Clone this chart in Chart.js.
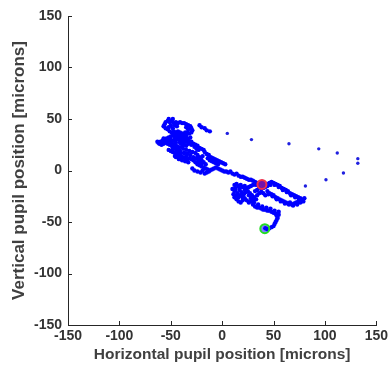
<!DOCTYPE html>
<html>
<head>
<meta charset="utf-8">
<script src="https://cdn.jsdelivr.net/npm/chart.js@4.4.1/dist/chart.umd.min.js"></script>
<style>
  html, body { margin: 0; padding: 0; background: #fff; }
  #wrap { width: 391px; height: 372px; }
</style>
</head>
<body>
<div id="wrap"><canvas id="pupilChart"></canvas></div>
<script>
// pupil trace [x, y] in microns
const tracePts = [
    // top loop of the left cluster
    [-57, 43], [-56, 45], [-55, 47], [-53, 48], [-51, 47], [-49, 48], [-47, 46], [-45, 47], [-43, 46], [-41, 47],
    [-39, 46], [-37, 46], [-35, 45], [-33, 44], [-31, 43], [-30, 41], [-29, 39], [-30, 37], [-32, 36], [-34, 37],
    [-55, 41], [-52, 42], [-53, 40], [-51, 38], [-49, 37], [-47, 38], [-45, 37], [-43, 38], [-41, 37], [-39, 36],
    [-37, 35], [-36, 37], [-52, 50], [-48, 50], [-46, 44], [-44, 43], [-50, 44], [-48, 41], [-33, 40], [-35, 42],
    // left arm
    [-63, 28], [-62, 27], [-60, 28], [-58, 29], [-56, 30], [-54, 31], [-52, 32], [-50, 33], [-48, 34], [-46, 33],
    [-44, 34], [-42, 33], [-40, 32], [-38, 33], [-36, 32], [-34, 31], [-61, 26], [-59, 25], [-57, 26], [-55, 27],
    [-53, 26], [-51, 25], [-49, 24], [-47, 25], [-45, 24], [-43, 23], [-50, 30], [-47, 29], [-44, 30], [-41, 29],
    [-38, 30], [-48, 36], [-45, 35], [-42, 36], [-40, 35],
    [-57, 31], [-53, 29], [-49, 27], [-45, 27], [-41, 27], [-37, 28], [-33, 30], [-31, 32], [-35, 34], [-39, 31],
    [-43, 31], [-46, 31], [-50, 28], [-54, 28], [-58, 27],
    // middle of the left cluster
    [-36, 29], [-34, 28], [-32, 27], [-30, 28], [-28, 26], [-26, 25], [-24, 24], [-22, 22], [-20, 21], [-18, 20],
    [-30, 25], [-27, 23], [-25, 21], [-23, 20], [-33, 26], [-38, 27], [-40, 26], [-37, 25], [-35, 24], [-39, 23],
    [-52, 20], [-50, 19], [-48, 18], [-46, 17], [-44, 16], [-42, 15], [-40, 14], [-38, 13], [-36, 12], [-34, 11],
    [-32, 12], [-30, 11], [-28, 10], [-47, 21], [-44, 20], [-41, 19], [-45, 13], [-42, 11], [-39, 10], [-36, 9],
    [-33, 8],
    [-48, 22], [-45, 21], [-42, 22], [-38, 21], [-35, 20], [-32, 19], [-29, 18], [-26, 17], [-24, 15], [-31, 15],
    [-34, 16], [-37, 17], [-40, 17], [-43, 18], [-46, 14], [-43, 13], [-40, 12], [-35, 14], [-28, 13], [-25, 12],
    [-22, 13], [-20, 10], [-18, 8], [-16, 6], [-20, 7], [-23, 8],
    // lower band of the left cluster
    [-26, 8], [-24, 6], [-22, 5], [-20, 4], [-18, 3], [-16, 2], [-14, 1], [-12, 0], [-15, -2], [-17, -3],
    [-13, -1], [-10, 1], [-8, 2], [-6, 3], [-4, 2], [-2, 1], [0, 0], [2, -1], [4, -1], [-29, 2],
    [-27, 0], [-24, -1], [-21, -2], [-19, 0],
    [-17, 18], [-15, 16], [-13, 15], [-11, 13], [-9, 12], [-7, 11], [-5, 10], [-3, 9], [-1, 8], [1, 7],
    [3, 6], [-14, 12], [-12, 10], [-10, 9], [-8, 8], [-6, 7], [-4, 6], [-19, 14], [-21, 12], [-23, 10],
    [-22, 44], [-20, 42], [-17, 41], [-15, 39], [-12, 38],
    // trail down to the middle cluster
    [6, -2], [8, -1], [10, -3], [12, -4], [14, -3], [16, -5], [18, -6], [20, -6], [22, -7], [24, -8],
    [26, -9], [28, -9], [30, -10], [32, -11], [34, -12],
    // middle cluster, left part
    [12, -14], [14, -13], [16, -15], [18, -14], [20, -16], [22, -15], [24, -17], [26, -16], [28, -15], [30, -14],
    [13, -17], [12, -20], [11, -23], [12, -26], [14, -28], [16, -30], [18, -31], [20, -29], [22, -27], [24, -29],
    [26, -31], [28, -30], [15, -22], [17, -19], [19, -21], [21, -23], [23, -21], [25, -20], [27, -22], [29, -24],
    [31, -26], [33, -28], [10, -18],
    [14, -24], [16, -26], [18, -24], [20, -26], [13, -19], [17, -17], [22, -19], [26, -24], [28, -27], [30, -29],
    // around the red marker
    [33, -14], [35, -13], [37, -12], [39, -11], [41, -12], [43, -13], [36, -16], [38, -18], [40, -17], [42, -16],
    [44, -15], [34, -19], [32, -20], [39, -14], [34, -24], [36, -22], [38, -21], [40, -22], [42, -24],
    // loop to the right
    [46, -12], [48, -11], [50, -12], [52, -13], [54, -14], [56, -15], [58, -17], [60, -18], [62, -19], [64, -20],
    [66, -22], [68, -23], [70, -24], [72, -25], [74, -26], [76, -27], [78, -28], [77, -30],
    [47, -14], [51, -14], [55, -16], [59, -19], [63, -21], [67, -24], [71, -26], [75, -28], [79, -30], [80, -27],
    [44, -20], [46, -22], [48, -23], [50, -24], [52, -26], [54, -27], [56, -28], [58, -29], [60, -30], [62, -31],
    [64, -32], [66, -31], [68, -33], [70, -32], [72, -31], [74, -30],
    [45, -23], [49, -25], [53, -28], [57, -30], [61, -32], [65, -33], [69, -34], [73, -33], [76, -31],
    // tail down to the green marker
    [30, -33], [32, -35], [34, -36], [36, -36], [38, -37], [40, -38], [42, -38], [44, -39], [46, -39], [48, -40],
    [50, -41], [52, -42], [53, -44], [54, -46], [53, -48], [52, -50], [51, -52], [50, -54], [48, -55], [46, -56],
    [44, -57], [42, -56],
    [31, -31], [35, -33], [39, -35], [43, -36], [47, -37], [51, -39], [55, -43], [55, -40]
];

// sparse stray samples to the right
const strayPts = [
    [5, 36], [28.5, 30], [65, 26], [94, 21], [112, 17], [132, 11.5], [132, 7], [118, -2.4], [101, -9], [81, -15]
];

const startPt = [[38.7, -13.5]];
const endPt = [[41.5, -56.5]];

const axisTicks = [-150, -100, -50, 0, 50, 100, 150];

const toXY = pts => pts.map(p => ({ x: p[0], y: p[1] }));

// MATLAB style ticks pointing into the plot
const innerTicks = {
    id: "innerTicks",
    afterDraw(chart) {
        const ctx = chart.ctx;
        const xs = chart.scales.x, ys = chart.scales.y;
        ctx.save();
        ctx.strokeStyle = "#262626";
        ctx.lineWidth = 1;
        ctx.beginPath();
        axisTicks.forEach(v => {
            const px = Math.round(xs.getPixelForValue(v)) + 0.5;
            ctx.moveTo(px, ys.bottom);
            ctx.lineTo(px, ys.bottom - 4);
            const py = Math.round(ys.getPixelForValue(v)) + 0.5;
            ctx.moveTo(xs.left, py);
            ctx.lineTo(xs.left + 4, py);
        });
        ctx.stroke();
        ctx.restore();
    }
};

const tickFont = { family: "'Liberation Sans', Arial, sans-serif", size: 14, weight: "bold" };

new Chart(document.getElementById("pupilChart"), {
    type: "scatter",
    data: {
        datasets: [
            {
                data: toXY(startPt),
                backgroundColor: "rgba(255,40,70,0.45)",
                borderColor: "#f0304a",
                borderWidth: 2,
                pointRadius: 4.5,
                order: 0
            },
            {
                data: toXY(endPt),
                backgroundColor: "rgba(0,0,255,0.5)",
                borderColor: "#22dd22",
                borderWidth: 2,
                pointRadius: 4.5,
                order: 0
            },
            {
                data: toXY(tracePts),
                backgroundColor: "#0000ff",
                borderWidth: 0,
                pointRadius: 2.2,
                order: 1
            },
            {
                data: toXY(strayPts),
                backgroundColor: "#2020e0",
                borderWidth: 0,
                pointRadius: 1.7,
                order: 1
            }
        ]
    },
    options: {
        responsive: true,
        maintainAspectRatio: false,
        animation: false,
        layout: { padding: { top: 16, right: 14, left: 9, bottom: 8 } },
        plugins: {
            legend: { display: false },
            tooltip: { enabled: false }
        },
        scales: {
            x: {
                type: "linear",
                min: -150,
                max: 150,
                afterBuildTicks: s => { s.ticks = axisTicks.map(v => ({ value: v })); },
                afterFit: s => { s.height = 39; },
                grid: { drawOnChartArea: false, drawTicks: false },
                border: { display: true, color: "#262626", width: 1 },
                ticks: { color: "#333", font: tickFont, padding: 3, maxRotation: 0 },
                title: {
                    display: true,
                    text: "Horizontal pupil position [microns]",
                    color: "#404040",
                    font: { family: "'Liberation Sans', Arial, sans-serif", size: 15.5, weight: "bold" },
                    padding: { top: 0, bottom: 0 }
                }
            },
            y: {
                type: "linear",
                min: -150,
                max: 150,
                afterBuildTicks: s => { s.ticks = axisTicks.map(v => ({ value: v })); },
                afterFit: s => { s.width = 59; },
                grid: { drawOnChartArea: false, drawTicks: false },
                border: { display: true, color: "#262626", width: 1 },
                ticks: { color: "#333", font: tickFont, padding: 6 },
                title: {
                    display: true,
                    text: "Vertical pupil position [microns]",
                    color: "#404040",
                    font: { family: "'Liberation Sans', Arial, sans-serif", size: 17, weight: "bold" },
                    padding: { top: 0, bottom: 0 }
                }
            }
        }
    },
    plugins: [innerTicks]
});
</script>
</body>
</html>
